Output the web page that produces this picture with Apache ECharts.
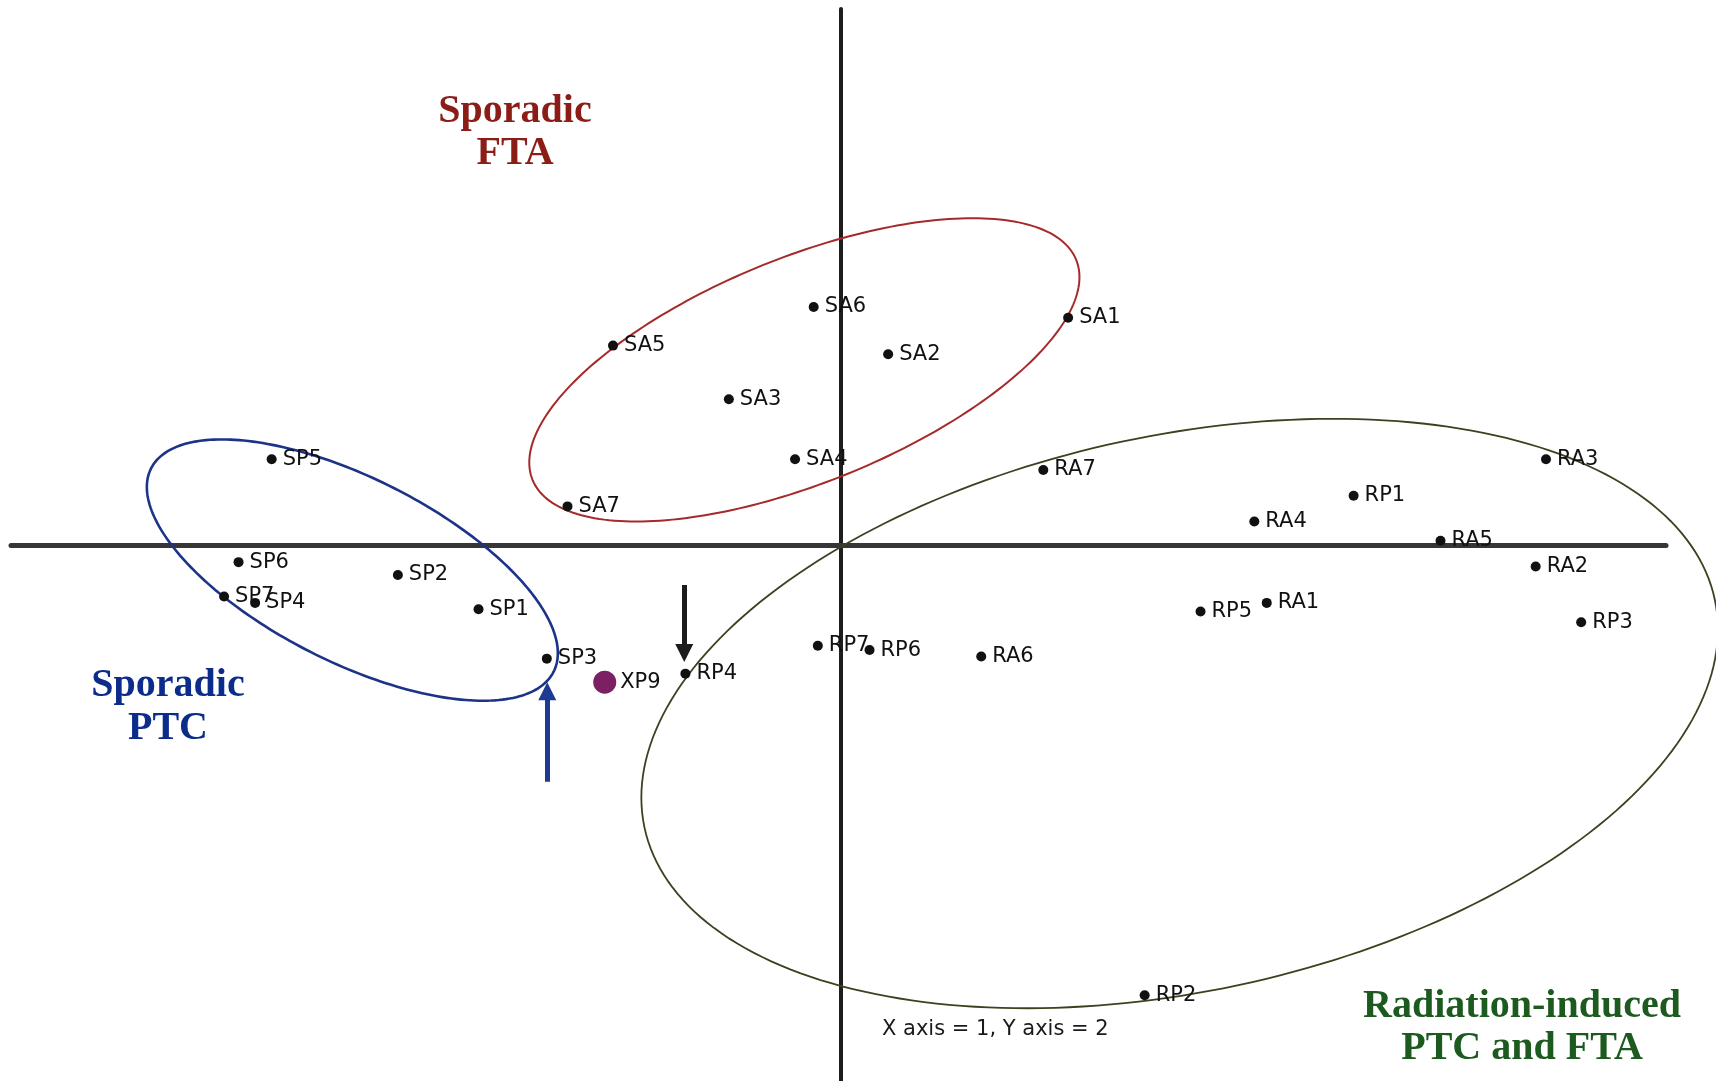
<!DOCTYPE html>
<html>
<head>
<meta charset="utf-8">
<script src="https://cdn.jsdelivr.net/npm/echarts@6/dist/echarts.min.js"></script>
<style>
  html, body { margin: 0; padding: 0; background: #ffffff; }
  #chart { width: 1716px; height: 1081px; }
</style>
</head>
<body>
<div id="chart"></div>
<script>
// Sample scores on component 1 (x) and component 2 (y)
const ftaNames = ['SA1', 'SA2', 'SA3', 'SA4', 'SA5', 'SA6', 'SA7'];
const ftaX = [1.10, 0.23, -0.54, -0.22, -1.10, -0.13, -1.32];
const ftaY = [1.06, 0.89, 0.68, 0.40, 0.93, 1.11, 0.18];

const ptcNames = ['SP1', 'SP2', 'SP3', 'SP4', 'SP5', 'SP6', 'SP7'];
const ptcX = [-1.75, -2.14, -1.42, -2.83, -2.75, -2.91, -2.98];
const ptcY = [-0.30, -0.14, -0.53, -0.27, 0.40, -0.08, -0.24];

const radNames = ['RA1', 'RA2', 'RA3', 'RA4', 'RA5', 'RA6', 'RA7',
                  'RP1', 'RP2', 'RP3', 'RP4', 'RP5', 'RP6', 'RP7'];
const radX = [2.06, 3.36, 3.41, 2.00, 2.90, 0.68, 0.98,
              2.48, 1.47, 3.58, -0.75, 1.74, 0.14, -0.11];
const radY = [-0.27, -0.10, 0.40, 0.11, 0.02, -0.52, 0.35,
              0.23, -2.10, -0.36, -0.60, -0.31, -0.49, -0.47];

const testNames = ['XP9'];
const testX = [-1.14];
const testY = [-0.64];

// Group ellipses: centre and two conjugate semi-axis vectors (data units)
const ringCentres = [[-0.175, 0.817], [-2.360, -0.117], [1.639, -0.786]];
const ringAxisU = [[1.314, 0.513], [0.973, -0.474], [2.587, 0.531]];
const ringAxisV = [[0.204, -0.487], [-0.200, -0.383], [0.279, -1.268]];

// Pointer arrows: [x, tailY, headY]
const arrowBlue = [-1.418, -1.104, -0.682];
const arrowBlack = [-0.7555, -0.187, -0.504];

const ringColors = ['#a52a2a', '#1c3388', '#3a4320'];
const ringWidths = [2, 2.6, 1.8];

function points(names, xs, ys) {
  return names.map((n, i) => ({ name: n, value: [xs[i], ys[i]] }));
}

const labelFont = {
  show: true,
  position: 'right',
  distance: 6,
  formatter: '{b}',
  fontFamily: 'DejaVu Sans',
  fontSize: 21,
  color: '#111111',
  opacity: 1
};

const dotStyle = { color: '#111111', opacity: 1 };

const ringData = ringCentres.map((c, i) =>
  [c[0], c[1], ringAxisU[i][0], ringAxisU[i][1], ringAxisV[i][0], ringAxisV[i][1]]);

const chart = echarts.init(document.getElementById('chart'), null, { renderer: 'canvas' });

chart.setOption({
  backgroundColor: '#ffffff',
  animation: false,
  grid: { left: 11, right: 50, top: 9, bottom: 0, containLabel: false },
  xAxis: {
    type: 'value', min: -4.01, max: 3.99,
    axisLine: { show: true, onZero: true, lineStyle: { color: '#363636', width: 5 } },
    axisTick: { show: false }, axisLabel: { show: false }, splitLine: { show: false }
  },
  yAxis: {
    type: 'value', min: -2.5, max: 2.5,
    axisLine: { show: true, onZero: true, lineStyle: { color: '#1e1e1e', width: 4 } },
    axisTick: { show: false }, axisLabel: { show: false }, splitLine: { show: false }
  },
  series: [
    {
      type: 'custom',
      z: 1,
      silent: true,
      encode: { x: 0, y: 1 },
      data: ringData,
      renderItem: function (params, api) {
        const cx = api.value(0), cy = api.value(1);
        const ux = api.value(2), uy = api.value(3);
        const vx = api.value(4), vy = api.value(5);
        const pts = [];
        const n = 240;
        for (let k = 0; k < n; k++) {
          const t = k / n * Math.PI * 2;
          pts.push(api.coord([cx + ux * Math.cos(t) + vx * Math.sin(t),
                              cy + uy * Math.cos(t) + vy * Math.sin(t)]));
        }
        return {
          type: 'polygon',
          shape: { points: pts },
          style: { fill: 'none', stroke: ringColors[params.dataIndex], lineWidth: ringWidths[params.dataIndex] }
        };
      }
    },
    {
      type: 'lines',
      coordinateSystem: 'cartesian2d',
      z: 3,
      symbol: ['none', 'triangle'],
      symbolSize: 18,
      lineStyle: { width: 5, opacity: 1, curveness: 0 },
      data: [
        { coords: [[arrowBlue[0], arrowBlue[1]], [arrowBlue[0], arrowBlue[2]]], lineStyle: { color: '#1f3a93' } },
        { coords: [[arrowBlack[0], arrowBlack[1]], [arrowBlack[0], arrowBlack[2]]], lineStyle: { color: '#1c1c1c' } }
      ]
    },
    {
      name: 'Sporadic FTA', type: 'scatter', z: 4,
      symbolSize: 10, itemStyle: dotStyle,
      label: labelFont,
      data: points(ftaNames, ftaX, ftaY)
    },
    {
      name: 'Sporadic PTC', type: 'scatter', z: 4,
      symbolSize: 10, itemStyle: dotStyle,
      label: labelFont,
      data: points(ptcNames, ptcX, ptcY)
    },
    {
      name: 'Radiation-induced', type: 'scatter', z: 4,
      symbolSize: 10, itemStyle: dotStyle,
      label: labelFont,
      data: points(radNames, radX, radY)
    },
    {
      name: 'Test sample', type: 'scatter', z: 4,
      symbolSize: 23, itemStyle: { color: '#7b2063', opacity: 1 },
      label: Object.assign({}, labelFont, { distance: 4 }),
      data: points(testNames, testX, testY)
    }
  ],
  graphic: [
    { type: 'text', x: 515, y: 112, style: { text: 'Sporadic', font: 'bold 40px "Liberation Serif"', fill: '#8b1c16', align: 'center', verticalAlign: 'middle' } },
    { type: 'text', x: 515, y: 154, style: { text: 'FTA', font: 'bold 40px "Liberation Serif"', fill: '#8b1c16', align: 'center', verticalAlign: 'middle' } },
    { type: 'text', x: 168, y: 686, style: { text: 'Sporadic', font: 'bold 40px "Liberation Serif"', fill: '#0c2c8c', align: 'center', verticalAlign: 'middle' } },
    { type: 'text', x: 168, y: 729, style: { text: 'PTC', font: 'bold 40px "Liberation Serif"', fill: '#0c2c8c', align: 'center', verticalAlign: 'middle' } },
    { type: 'text', x: 1522, y: 1007, style: { text: 'Radiation-induced', font: 'bold 40px "Liberation Serif"', fill: '#1d5a1f', align: 'center', verticalAlign: 'middle' } },
    { type: 'text', x: 1522, y: 1049, style: { text: 'PTC and FTA', font: 'bold 40px "Liberation Serif"', fill: '#1d5a1f', align: 'center', verticalAlign: 'middle' } },
    { type: 'text', x: 882, y: 1030, style: { text: 'X axis = 1, Y axis = 2', font: '21px "DejaVu Sans"', fill: '#1a1a1a', align: 'left', verticalAlign: 'middle' } }
  ]
});
</script>
</body>
</html>
